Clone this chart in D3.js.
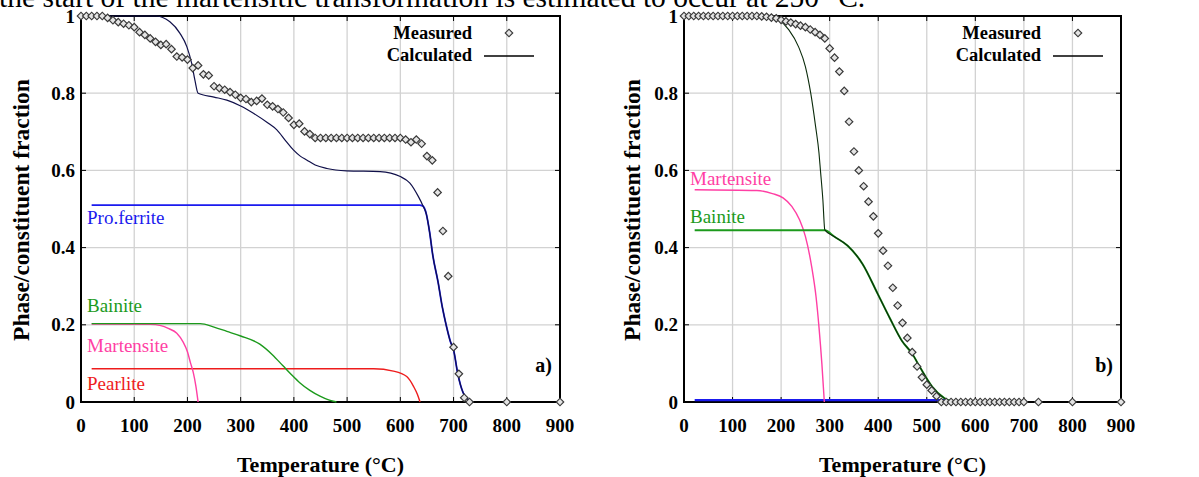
<!DOCTYPE html>
<html>
<head>
<meta charset="utf-8">
<script src="https://cdn.jsdelivr.net/npm/d3@7"></script>
<style>
  body { margin: 0; background: #fff; }
  svg { display: block; }
  text { font-family: "Liberation Serif", "Times New Roman", serif; }
</style>
</head>
<body>
<svg id="chart" width="1199" height="477"></svg>
<script>
// axis ticks
var tempTicks = [0, 100, 200, 300, 400, 500, 600, 700, 800, 900];
var fracTicks = [0, 0.2, 0.4, 0.6, 0.8, 1];
var fracLabels = ["0", "0.2", "0.4", "0.6", "0.8", "1"];

// panel a) measured [T, fraction]
var measuredA = [[0,1],[10,1],[20,1],[30,1],[40,1],[50,0.995],[60,0.989],[70,0.984],[80,0.98],[90,0.976],
  [100,0.971],[110,0.958],[120,0.951],[130,0.942],[140,0.933],[150,0.925],[160,0.927],[170,0.914],[180,0.895],[190,0.893],
  [200,0.887],[210,0.865],[220,0.872],[230,0.849],[240,0.846],[250,0.818],[260,0.813],[270,0.809],[280,0.803],[290,0.796],
  [300,0.788],[310,0.785],[320,0.777],[330,0.78],[340,0.786],[350,0.77],[360,0.766],[370,0.759],[380,0.75],[390,0.736],
  [400,0.718],[410,0.721],[420,0.701],[430,0.694],[440,0.684],[450,0.684],[460,0.684],[470,0.684],[480,0.684],[490,0.684],
  [500,0.684],[510,0.684],[520,0.684],[530,0.684],[540,0.684],[550,0.684],[560,0.684],[570,0.684],[580,0.684],[590,0.684],
  [600,0.684],[610,0.68],[620,0.673],[630,0.68],[640,0.669],[650,0.637],[660,0.626],[670,0.543],[680,0.443],[690,0.326],
  [700,0.142],[710,0.073],[720,0.011],[730,0],[800,0],[900,0]];

// panel a) calculated curves
var calcA = [[20,1],[140,1],[167,0.985],[186,0.955],[199,0.92],[208,0.877],[214,0.834],[220,0.80],[250,0.79],[274,0.782],
  [300,0.767],[324,0.748],[350,0.724],[368,0.705],[385,0.676],[399,0.653],[412,0.637],[424,0.627],[440,0.614],[462,0.605],
  [499,0.599],[562,0.597],[600,0.584],[618,0.567],[634,0.532],[642,0.51],
  [649,0.486],[655,0.44],[661,0.38],[671,0.31],[679,0.245],[686,0.2],[694,0.157],[700,0.135],[708,0.073],[718,0.024],
  [727,0.007],[736,0]];
var ferriteA = [[20,0.51],[636,0.51],[642,0.508],[649,0.486],[655,0.44],[661,0.38],[671,0.31],[679,0.245],[686,0.2],
  [694,0.157],[700,0.135],[708,0.073],[718,0.024],[727,0.007],[736,0]];
var bainiteA = [[20,0.203],[224,0.203],[250,0.194],[274,0.183],[300,0.171],[336,0.15],[360,0.122],[380,0.093],
  [396,0.07],[411,0.05],[430,0.03],[449,0.015],[464,0.006],[474,0.002],[480,0]];
var martensiteA = [[20,0.202],[130,0.201],[150,0.198],[165,0.19],[180,0.178],[192,0.155],[200,0.13],[206,0.1],
  [211,0.076],[216,0.04],[220,0]];
var pearliteA = [[20,0.086],[550,0.086],[587,0.08],[612,0.066],[625,0.04],[632,0.02],[637,0]];

// panel b) measured
var measuredB = [[0,1],[10,1],[20,1],[30,1],[40,1],[50,1],[60,1],[70,1],[80,1],[90,1],
  [100,1],[110,1],[120,1],[130,1],[140,1],[150,1],[160,0.999],[170,0.998],[180,0.996],[190,0.994],
  [200,0.99],[210,0.986],[220,0.983],[230,0.979],[240,0.975],[250,0.971],[260,0.965],[270,0.958],[280,0.951],[290,0.942],
  [300,0.916],[310,0.892],[320,0.856],[330,0.806],[340,0.726],[350,0.649],[360,0.6],[370,0.559],[380,0.519],[390,0.481],
  [400,0.437],[410,0.392],[420,0.353],[430,0.296],[440,0.25],[450,0.205],[460,0.166],[470,0.129],[480,0.092],[490,0.064],
  [500,0.045],[510,0.03],[520,0.015],[530,0],[540,0],[550,0],[560,0],[570,0],[580,0],[590,0],
  [600,0],[610,0],[620,0],[630,0],[640,0],[650,0],[660,0],[670,0],[680,0],[690,0],[700,0],[730,0],[800,0],[900,0]];

// panel b) calculated curves
var calcB = [[20,1],[150,1],[180,0.997],[195,0.99],[216,0.964],[236,0.92],[250,0.869],[261,0.80],[271,0.714],[278,0.645],
  [281,0.60],[286,0.524],[290,0.446],[310,0.428],[337,0.405],[368,0.357],[399,0.28],[424,0.217],[449,0.158],[470,0.125],
  [487,0.088],[511,0.04],[536,0.01],[552,0]];
var bainiteB = [[22,0.445],[290,0.445],[310,0.428],[337,0.405],[368,0.357],[399,0.28],[424,0.217],[449,0.158],[470,0.125],
  [487,0.088],[511,0.04],[536,0.01],[552,0]];
var martensiteB = [[22,0.55],[150,0.548],[182,0.54],[204,0.529],[222,0.507],[238,0.472],[250,0.429],[263,0.35],
  [272,0.272],[278,0.194],[284,0.098],[289,0]];
var ferriteB = [[22,0.005],[540,0.005],[548,0]];

var svg = d3.select("#chart");

svg.append("text")
   .attr("x", -1)
   .attr("y", 7)
   .attr("font-size", 29.5)
   .attr("fill", "#000")
   .text("the start of the martensitic transformation is estimated to occur at 250 °C.");

function drawPanel(p) {
  var x = d3.scaleLinear().domain([0, 900]).range([p.left, p.right]);
  var y = d3.scaleLinear().domain([0, 1]).range([402, 16]);
  var g = svg.append("g");

  // grid
  g.selectAll(".vg").data(tempTicks.slice(1, -1)).enter().append("line")
   .attr("x1", d => x(d)).attr("x2", d => x(d))
   .attr("y1", y(0)).attr("y2", y(1))
   .attr("stroke", "#d2d2d2").attr("stroke-width", 1.3);
  g.selectAll(".hg").data(fracTicks.slice(1, -1)).enter().append("line")
   .attr("x1", x(0)).attr("x2", x(900))
   .attr("y1", d => y(d)).attr("y2", d => y(d))
   .attr("stroke", "#d2d2d2").attr("stroke-width", 1.3);

  // inward ticks
  g.selectAll(".tb").data(tempTicks).enter().append("line")
   .attr("x1", d => x(d)).attr("x2", d => x(d)).attr("y1", y(0)).attr("y2", y(0) - 5)
   .attr("stroke", "#000");
  g.selectAll(".tt").data(tempTicks).enter().append("line")
   .attr("x1", d => x(d)).attr("x2", d => x(d)).attr("y1", y(1)).attr("y2", y(1) + 5)
   .attr("stroke", "#000");
  g.selectAll(".tl").data(fracTicks).enter().append("line")
   .attr("x1", x(0)).attr("x2", x(0) + 5).attr("y1", d => y(d)).attr("y2", d => y(d))
   .attr("stroke", "#000");
  g.selectAll(".tr").data(fracTicks).enter().append("line")
   .attr("x1", x(900)).attr("x2", x(900) - 5).attr("y1", d => y(d)).attr("y2", d => y(d))
   .attr("stroke", "#000");

  // frame
  g.append("rect")
   .attr("x", x(0)).attr("y", y(1))
   .attr("width", x(900) - x(0)).attr("height", y(0) - y(1))
   .attr("fill", "none").attr("stroke", "#000").attr("stroke-width", 2);

  // tick labels
  g.selectAll(".xl").data(tempTicks).enter().append("text")
   .attr("x", d => x(d)).attr("y", 432)
   .attr("text-anchor", "middle").attr("font-size", 19).attr("font-weight", "bold")
   .text(d => d);
  g.selectAll(".yl").data(fracTicks).enter().append("text")
   .attr("x", x(0) - 6).attr("y", d => y(d)).attr("dy", "0.35em")
   .attr("text-anchor", "end").attr("font-size", 19).attr("font-weight", "bold")
   .text((d, i) => fracLabels[i]);

  // axis titles
  g.append("text")
   .attr("x", (x(0) + x(900)) / 2).attr("y", 472)
   .attr("text-anchor", "middle").attr("font-size", 22).attr("font-weight", "bold")
   .text("Temperature (°C)");
  g.append("text")
   .attr("transform", "translate(" + p.ylabelX + ",210) rotate(-90)")
   .attr("text-anchor", "middle").attr("font-size", 23.5).attr("font-weight", "bold")
   .text("Phase/constituent fraction");

  // curves
  var line = d3.line().x(d => x(d[0])).y(d => y(d[1])).curve(d3.curveMonotoneX);
  p.curves.forEach(function (c) {
    g.append("path").datum(c.data)
     .attr("d", line)
     .attr("fill", "none")
     .attr("stroke", c.color)
     .attr("stroke-width", c.width);
  });

  // measured diamonds
  g.selectAll(".m").data(p.measured).enter().append("path")
   .attr("d", d3.symbol().type(d3.symbolSquare).size(28))
   .attr("transform", d => "translate(" + x(d[0]) + "," + y(d[1]) + ") rotate(45)")
   .attr("fill", "#e4e4e4").attr("stroke", "#3a3a3a").attr("stroke-width", 1.2);

  // phase labels
  p.labels.forEach(function (l) {
    g.append("text")
     .attr("x", l.x).attr("y", l.y)
     .attr("font-size", 19).attr("fill", l.color)
     .text(l.text);
  });

  // legend
  g.append("text").attr("x", p.legendX).attr("y", 39)
   .attr("text-anchor", "end").attr("font-size", 18.5).attr("font-weight", "bold")
   .text("Measured");
  g.append("text").attr("x", p.legendX).attr("y", 61)
   .attr("text-anchor", "end").attr("font-size", 18.5).attr("font-weight", "bold")
   .text("Calculated");
  g.append("path")
   .attr("d", d3.symbol().type(d3.symbolSquare).size(28))
   .attr("transform", "translate(" + (p.legendX + 37) + ",33) rotate(45)")
   .attr("fill", "#e4e4e4").attr("stroke", "#3a3a3a").attr("stroke-width", 1.2);
  g.append("line")
   .attr("x1", p.legendX + 12).attr("x2", p.legendX + 62)
   .attr("y1", 56).attr("y2", 56)
   .attr("stroke", "#000").attr("stroke-width", 1.3);

  // panel tag
  g.append("text").attr("x", x(900) - 8).attr("y", 372)
   .attr("text-anchor", "end").attr("font-size", 20).attr("font-weight", "bold")
   .text(p.tag);
}

drawPanel({
  left: 81, right: 560, ylabelX: 29, legendX: 472, tag: "a)",
  measured: measuredA,
  curves: [
    { data: pearliteA, color: "#ee1c1c", width: 1.4 },
    { data: martensiteA, color: "#ff3fa4", width: 1.4 },
    { data: bainiteA, color: "#1c9a1c", width: 1.4 },
    { data: ferriteA, color: "#1a1aee", width: 1.8 },
    { data: calcA, color: "#10104a", width: 1.2 }
  ],
  labels: [
    { text: "Pro.ferrite", x: 87, y: 224, color: "#1a1aee" },
    { text: "Bainite", x: 87, y: 312, color: "#1c9a1c" },
    { text: "Martensite", x: 87, y: 352, color: "#ff3fa4" },
    { text: "Pearlite", x: 87, y: 390, color: "#ee1c1c" }
  ]
});

drawPanel({
  left: 684, right: 1121, ylabelX: 640, legendX: 1041, tag: "b)",
  measured: measuredB,
  curves: [
    { data: ferriteB, color: "#1a1aee", width: 2.2 },
    { data: martensiteB, color: "#ff3fa4", width: 1.4 },
    { data: bainiteB, color: "#1c9a1c", width: 2 },
    { data: calcB, color: "#0a2a0a", width: 1.1 }
  ],
  labels: [
    { text: "Martensite", x: 690, y: 185, color: "#ff3fa4" },
    { text: "Bainite", x: 690, y: 223, color: "#1c9a1c" }
  ]
});
</script>
</body>
</html>
